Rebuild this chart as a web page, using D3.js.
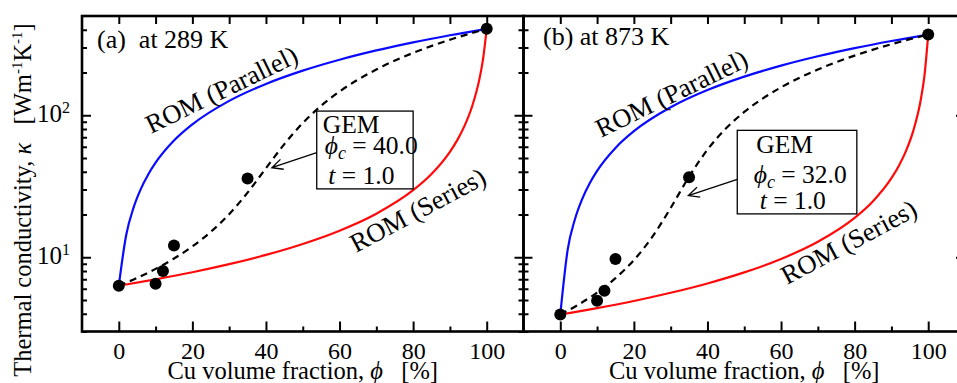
<!DOCTYPE html>
<html>
<head>
<meta charset="utf-8">
<script src="https://cdn.jsdelivr.net/npm/d3@7"></script>
<style>
body { margin: 0; background: #fff; }
svg { font-family: "Liberation Serif", "Times New Roman", serif; }
</style>
</head>
<body>
<svg width="957" height="383"></svg>
<script>
// **** Values ****

var xTickLabels = [0, 20, 40, 60, 80, 100];
var xMinorTicks = [10, 30, 50, 70, 90];
var yMajorTicks = [10, 100];
var yMinorTicks = [3, 4, 5, 6, 7, 8, 9, 20, 30, 40, 50, 60, 70, 80, 90, 200, 300, 400];

// Cu volume fraction (%) at which each curve was read
var parPhi = [0, 2, 4, 6, 8, 10, 15, 20, 30, 40, 50, 60, 70, 80, 90, 100];
var serPhi = [0, 10, 20, 30, 40, 50, 60, 70, 80, 85, 90, 92, 94, 96, 98, 99, 100];
var gemPhi = [0, 5, 10, 15, 20, 25, 30, 35, 40, 45, 50, 55, 60, 70, 80, 90, 100];
var expPhi = [0, 10, 12, 15, 35, 100];

// (a) 289 K
var par289 = [6.3, 14.3, 22.3, 30.3, 38.3, 46.3, 66.3, 86.2, 126.2, 166.2, 206.2, 246.1, 286.1, 326.1, 366, 406];
var ser289 = [6.3, 6.99, 7.84, 8.94, 10.39, 12.41, 15.39, 20.27, 29.66, 38.6, 55.3, 66.8, 84.5, 114.8, 178.9, 248.4, 406];
var gem289 = [6.3, 7.16, 8.28, 9.79, 11.92, 15.1, 20.1, 28.5, 42.4, 62.6, 88.1, 116.6, 146.9, 210, 274.8, 340.2, 406];
var exp289 = [6.3, 6.5, 8.0, 12.1, 35.8, 406];

// (b) 873 K
var par873 = [3.95, 11.27, 18.6, 25.9, 33.2, 40.6, 58.9, 77.2, 113.8, 150.4, 187, 223.6, 260.2, 296.8, 333.4, 370];
var ser873 = [3.95, 4.38, 4.92, 5.62, 6.54, 7.82, 9.72, 12.85, 18.94, 24.83, 36.04, 43.98, 56.4, 78.6, 129.7, 192, 370];
var gem873 = [3.95, 4.65, 5.64, 7.12, 9.55, 13.9, 22.25, 36.9, 57.2, 80.6, 105.5, 131.1, 157.2, 209.9, 263.1, 316.5, 370];
var exp873 = [3.95, 4.93, 5.8, 9.73, 36.6, 370];

// **** Layout ****

var svg = d3.select('svg');
var top_ = 16, bottom = 331.5;

var kScale = d3.scaleLog().domain([3, 500]).range([bottom, top_]);

var panels = [
    { title: '(a)\u2002at 289 K', titlePos: [97, 48],
      range: [82, 523.5], par: par289, ser: ser289, gem: gem289, exp: exp289, phic: '40.0',
      parLabel: [151, 134, -26], serLabel: [356, 253, -28],
      box: [53.8, 80.0, 107, 30.3], arrowFrom: 54.5, arrowTo: [41.6, 42.7],
      boxText: [[6, 21.6], [8, 43.3], [11.6, 73.3]] },
    { title: '(b) at 873 K', titlePos: [543, 45],
      range: [523.5, 965], par: par873, ser: ser873, gem: gem873, exp: exp873, phic: '32.0',
      parLabel: [601, 138, -26], serLabel: [787, 285, -28],
      box: [48.1, 80.6, 78.3, 20.2], arrowFrom: 35.3, arrowTo: [34.8, 27.2],
      boxText: [[19, 22.3], [16.5, 52.3], [22.5, 79]] }
];

panels.forEach(function(p, i) { drawPanel(p, i); });

function zip(xs, ys) {
    return xs.map(function(x, i) { return [x, ys[i]]; });
}

function drawPanel(p, idx) {
    var x = d3.scaleLinear().domain([-10, 110]).range(p.range);
    var g = svg.append('g');

    var line = d3.line()
        .x(function(d) { return x(d[0]); })
        .y(function(d) { return kScale(d[1]); })
        .curve(d3.curveMonotoneX);

    g.append('path').datum(zip(parPhi, p.par))
        .attr('d', line).attr('fill', 'none')
        .attr('stroke', '#0a0aff').attr('stroke-width', 2.2);

    g.append('path').datum(zip(serPhi, p.ser))
        .attr('d', line).attr('fill', 'none')
        .attr('stroke', '#ff0a0a').attr('stroke-width', 2.2);

    g.append('path').datum(zip(gemPhi, p.gem))
        .attr('d', line).attr('fill', 'none')
        .attr('stroke', '#000').attr('stroke-width', 2.2)
        .attr('stroke-dasharray', '7,5');

    g.selectAll('circle.pt').data(zip(expPhi, p.exp)).enter()
        .append('circle').attr('class', 'pt')
        .attr('cx', function(d) { return x(d[0]); })
        .attr('cy', function(d) { return kScale(d[1]); })
        .attr('r', 6).attr('fill', '#000');

    // axes: all ticks point inward
    var bx = g.append('g').attr('transform', 'translate(0,' + bottom + ')')
        .call(d3.axisBottom(x).tickValues(xTickLabels).tickSize(-10).tickPadding(10));
    g.append('g').attr('transform', 'translate(0,' + bottom + ')')
        .call(d3.axisBottom(x).tickValues(xMinorTicks).tickSize(-5).tickFormat(''));
    g.append('g').attr('transform', 'translate(0,' + top_ + ')')
        .call(d3.axisTop(x).tickValues(xTickLabels.concat(xMinorTicks)).tickSize(-8).tickFormat(''));

    g.append('g').attr('transform', 'translate(' + p.range[0] + ',0)')
        .call(d3.axisLeft(kScale).tickValues(yMajorTicks).tickSize(-9).tickFormat(''));
    g.append('g').attr('transform', 'translate(' + p.range[0] + ',0)')
        .call(d3.axisLeft(kScale).tickValues(yMinorTicks).tickSize(-5).tickFormat(''));
    g.append('g').attr('transform', 'translate(' + p.range[1] + ',0)')
        .call(d3.axisRight(kScale).tickValues(yMajorTicks).tickSize(-9).tickFormat(''));
    g.append('g').attr('transform', 'translate(' + p.range[1] + ',0)')
        .call(d3.axisRight(kScale).tickValues(yMinorTicks).tickSize(-5).tickFormat(''));

    g.selectAll('.domain').remove();
    g.selectAll('.tick line').attr('stroke', '#000').attr('stroke-width', 2);
    bx.attr('font-family', null).attr('font-size', 24);
    bx.selectAll('text').attr('fill', '#000');

    g.append('rect')
        .attr('x', p.range[0]).attr('y', top_)
        .attr('width', p.range[1] - p.range[0]).attr('height', bottom - top_)
        .attr('fill', 'none').attr('stroke', '#000').attr('stroke-width', 2.6);

    // x-axis label
    var xl = g.append('text')
        .attr('x', x(50)).attr('y', 379)
        .attr('text-anchor', 'middle').attr('font-size', 24.5);
    xl.append('tspan').text('Cu volume fraction, ');
    xl.append('tspan').attr('font-style', 'italic').text('\u03d5');
    xl.append('tspan').text('\u2002 [%]');

    // panel title
    g.append('text').attr('x', p.titlePos[0]).attr('y', p.titlePos[1])
        .attr('font-size', 26).text(p.title);

    // ROM labels
    g.append('text').attr('font-size', 26.5)
        .attr('transform', 'translate(' + p.parLabel[0] + ',' + p.parLabel[1] + ') rotate(' + p.parLabel[2] + ')')
        .text('ROM (Parallel)');
    g.append('text').attr('font-size', 26.5)
        .attr('transform', 'translate(' + p.serLabel[0] + ',' + p.serLabel[1] + ') rotate(' + p.serLabel[2] + ')')
        .text('ROM (Series)');

    // GEM box + arrow
    var bx0 = x(p.box[0]), bx1 = x(p.box[1]);
    var by0 = kScale(p.box[2]), by1 = kScale(p.box[3]);
    g.append('rect').attr('x', bx0).attr('y', by0)
        .attr('width', bx1 - bx0).attr('height', by1 - by0)
        .attr('fill', '#fff').attr('stroke', '#000').attr('stroke-width', 1.3);

    var ax0 = bx0, ay0 = kScale(p.arrowFrom);
    var ax1 = x(p.arrowTo[0]), ay1 = kScale(p.arrowTo[1]);
    var ang = Math.atan2(ay0 - ay1, ax0 - ax1);
    var head = 12, spread = 0.45;
    g.append('path')
        .attr('d', 'M' + ax0 + ',' + ay0 + 'L' + ax1 + ',' + ay1 +
            'M' + (ax1 + head * Math.cos(ang + spread)) + ',' + (ay1 + head * Math.sin(ang + spread)) +
            'L' + ax1 + ',' + ay1 +
            'L' + (ax1 + head * Math.cos(ang - spread)) + ',' + (ay1 + head * Math.sin(ang - spread)))
        .attr('fill', 'none').attr('stroke', '#000').attr('stroke-width', 1.3);

    g.append('text').attr('font-size', 25.5)
        .attr('x', bx0 + p.boxText[0][0]).attr('y', by0 + p.boxText[0][1]).text('GEM');
    var t2 = g.append('text').attr('font-size', 25.5)
        .attr('x', bx0 + p.boxText[1][0]).attr('y', by0 + p.boxText[1][1]);
    t2.append('tspan').attr('font-style', 'italic').text('\u03d5');
    t2.append('tspan').attr('font-style', 'italic').attr('font-size', 18).attr('dy', 5).text('c');
    t2.append('tspan').attr('dy', -5).text(' = ' + p.phic);
    var t3 = g.append('text').attr('font-size', 25.5)
        .attr('x', bx0 + p.boxText[2][0]).attr('y', by0 + p.boxText[2][1]);
    t3.append('tspan').attr('font-style', 'italic').text('t');
    t3.append('tspan').text(' = 1.0');

    if (idx === 0) {
        // y tick labels 10^n
        yMajorTicks.forEach(function(v) {
            g.append('text').attr('x', 62).attr('y', kScale(v) + 7)
                .attr('text-anchor', 'end').attr('font-size', 25).text('10');
            g.append('text').attr('x', 62).attr('y', kScale(v) - 2)
                .attr('font-size', 16).text(Math.round(Math.log10(v)));
        });
    }
}

// y-axis label
var yl = svg.append('text')
    .attr('transform', 'translate(31,200) rotate(-90)')
    .attr('text-anchor', 'middle').attr('font-size', 24.5);
yl.append('tspan').text('Thermal conductivity, ');
yl.append('tspan').attr('font-style', 'italic').text('\u03ba');
yl.append('tspan').text('\u2002 [Wm');
yl.append('tspan').attr('font-size', 15).attr('dy', -9).text('-1');
yl.append('tspan').attr('dy', 9).text('K');
yl.append('tspan').attr('font-size', 15).attr('dy', -9).text('-1');
yl.append('tspan').attr('dy', 9).text(']');
</script>
</body>
</html>
